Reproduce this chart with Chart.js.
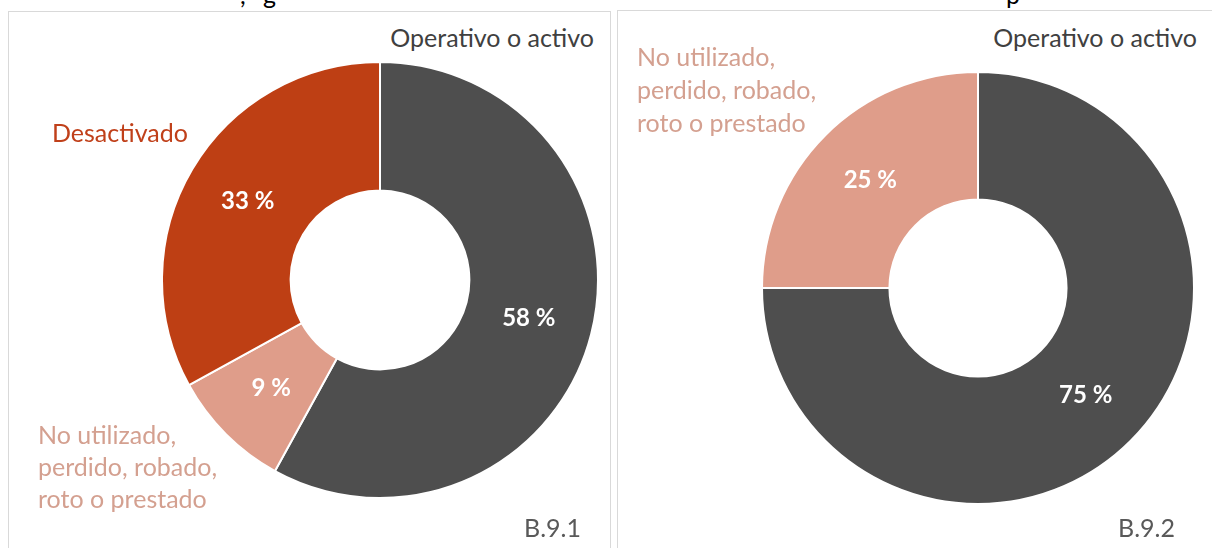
<!DOCTYPE html>
<html>
<head>
<meta charset="utf-8">
<script src="https://cdn.jsdelivr.net/npm/chart.js@4.4.0/dist/chart.umd.min.js"></script>
<style>
  html, body { margin:0; padding:0; background:#fff; width:1212px; height:548px; overflow:hidden; position:relative; font-family: Lato, "Open Sans", sans-serif; }
  .panel { position:absolute; border:1px solid #d9d9d9; box-sizing:border-box; }
  .lbl { position:absolute; font-size:25px; line-height:32px; white-space:nowrap; }
  canvas { position:absolute; }
  .frag { position:absolute; font-size:25px; line-height:24px; color:#000; }
</style>
</head>
<body>
<div class="frag" style="left:240px; top:-18px;">,</div>
<div class="frag" style="left:263px; top:-18px;">g</div>
<div class="frag" style="left:1006px; top:-18px;">p</div>

<div class="panel" style="left:8px; top:11px; width:603px; height:600px;"></div>
<div class="panel" style="left:617px; top:10px; width:620px; height:600px;"></div>

<canvas id="c1" width="438" height="438" style="left:161px; top:61px;"></canvas>
<canvas id="c2" width="434" height="434" style="left:761px; top:71px;"></canvas>

<div id="labels"></div>

<script>
// ---- data ----
const categories1 = ["Operativo o activo", "No utilizado, perdido, robado, roto o prestado", "Desactivado"];
const values1 = [58, 9, 33];
const categories2 = ["Operativo o activo", "No utilizado, perdido, robado, roto o prestado"];
const values2 = [75, 25];
const chartIds = ["B.9.1", "B.9.2"];

// ---- styles ----
const COL_DARK = "#4e4e4e", COL_RED = "#be3f14", COL_PINK = "#df9d8a";
const colors1 = [COL_DARK, COL_PINK, COL_RED];
const colors2 = [COL_DARK, COL_PINK];

const pctPlugin = {
  id: "pct",
  afterDatasetsDraw(chart) {
    const ctx = chart.ctx;
    const meta = chart.getDatasetMeta(0);
    const vals = chart.data.datasets[0].data;
    ctx.save();
    ctx.fillStyle = "#ffffff";
    ctx.font = "bold 24px Lato, 'Open Sans', sans-serif";
    ctx.textAlign = "center";
    ctx.textBaseline = "middle";
    meta.data.forEach((arc, i) => {
      const p = arc.tooltipPosition();
      ctx.fillText(vals[i] + " %", p.x, p.y);
    });
    ctx.restore();
  }
};

function makeChart(id, cats, vals, cols) {
  return new Chart(document.getElementById(id), {
    type: "doughnut",
    data: { labels: cats, datasets: [{ data: vals, backgroundColor: cols, borderColor: "#ffffff", borderWidth: 2 }] },
    options: {
      responsive: false, animation: false, cutout: "41%",
      layout: { padding: 0 },
      plugins: { legend: { display: false }, tooltip: { enabled: false } }
    },
    plugins: [pctPlugin]
  });
}
makeChart("c1", categories1, values1, colors1);
makeChart("c2", categories2, values2, colors2);

// ---- external labels (text from the category arrays) ----
const host = document.getElementById("labels");
function addLabel(text, opts) {
  const d = document.createElement("div");
  d.className = "lbl";
  d.textContent = text;
  Object.assign(d.style, opts);
  host.appendChild(d);
  return d;
}
function splitLines(t) { return t.replace(", perdido, robado, ", ",\nperdido, robado,\n").split("\n"); }

// left panel
addLabel(categories1[0], { left: "0px", width: "594px", textAlign: "right", top: "21px", color: "#404040" });
addLabel(categories1[2], { left: "52px", top: "116px", color: "#c0401a" });
splitLines(categories1[1]).forEach((t, i) => addLabel(t, { left: "38px", top: (418 + i * 32) + "px", color: "#d4a090" }));
addLabel(chartIds[0], { left: "0px", width: "581px", textAlign: "right", top: "511px", color: "#595959" });

// right panel
addLabel(categories2[0], { left: "0px", width: "1197px", textAlign: "right", top: "21px", color: "#404040" });
splitLines(categories2[1]).forEach((t, i) => addLabel(t, { left: "637px", top: (40 + i * 33) + "px", color: "#d4a090" }));
addLabel(chartIds[1], { left: "0px", width: "1175px", textAlign: "right", top: "511px", color: "#595959" });
</script>
</body>
</html>
